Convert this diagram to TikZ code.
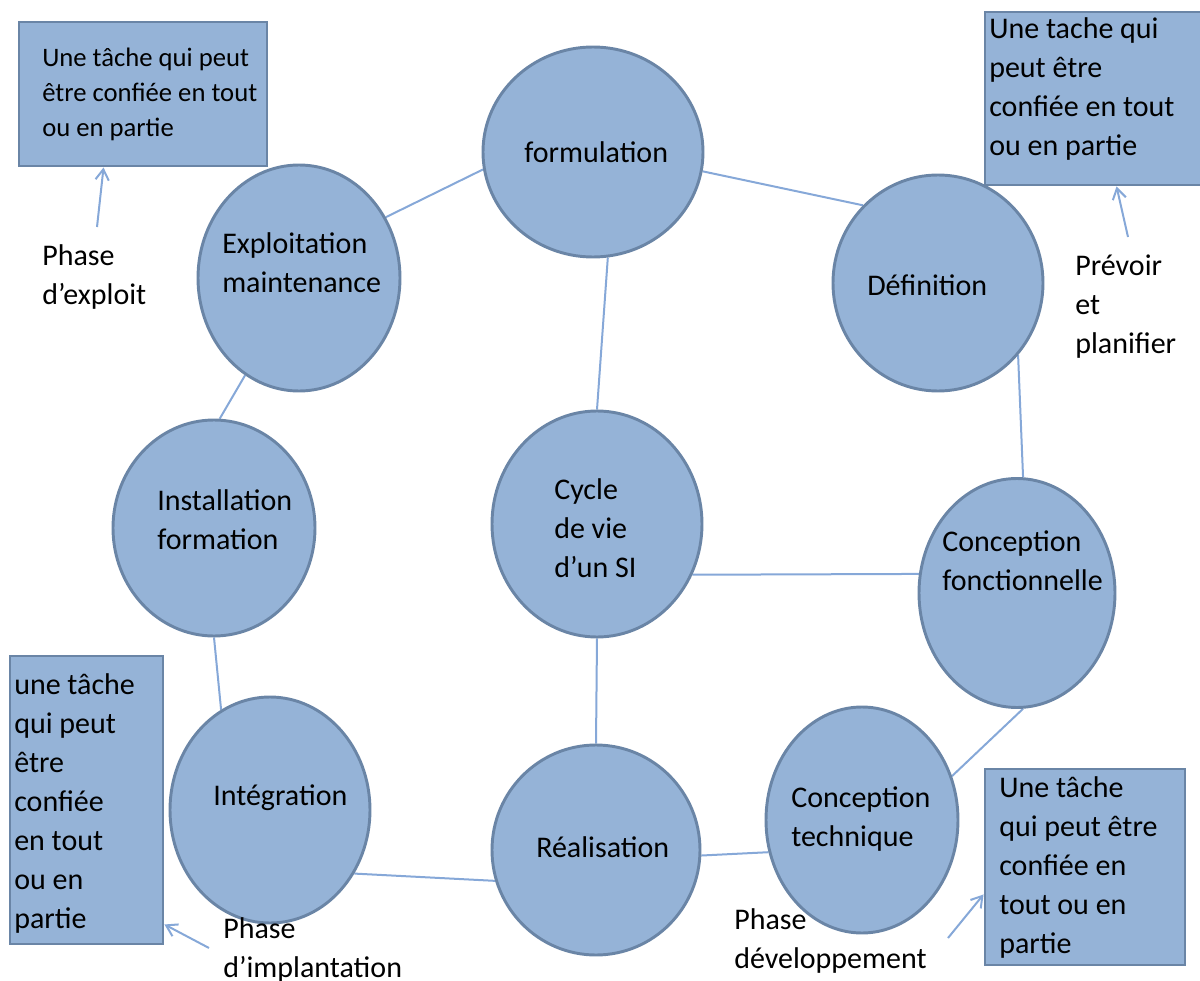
\documentclass[tikz,border=0pt]{standalone}
\usepackage{fontspec}
\setmainfont{Carlito}
\usetikzlibrary{shapes.geometric,arrows.meta,backgrounds}

% one drawing unit = one pixel of the 1200 x 981 canvas
\newlength{\pxu}\setlength{\pxu}{0.75pt}
\newcommand{\txtlines}[1]{\begin{tabular}[t]{@{}l@{}}#1\end{tabular}}

\definecolor{phasefill}{HTML}{95B3D7}
\definecolor{phaseedge}{HTML}{6A85A6}
\definecolor{linkblue}{HTML}{86A8D8}

\tikzset{
  phase/.style={ellipse, fill=phasefill, draw=phaseedge, line width=2.2pt, inner sep=0pt},
  note/.style={rectangle, fill=phasefill, draw=phaseedge, line width=2.2pt, inner sep=0pt},
  txt/.style={anchor=base west, inner sep=0pt, font=\fontsize{22.5}{29.25}\selectfont},
  smalltxt/.style={txt, font=\fontsize{20}{26}\selectfont},
  link/.style={draw=linkblue, line width=1.5pt},
  pointer/.style={link, -{Straight Barb[length=8pt,width=10pt]}}
}

\begin{document}
\begin{tikzpicture}[x=0.75pt, y=-0.75pt]
  \clip (0,0) rectangle (1200,981);
  \useasboundingbox (0,0) rectangle (1200,981);

  % phases of the life cycle
  \node[phase, minimum width=220\pxu, minimum height=210\pxu] (F)  at (593,152) {};
  \node[phase, minimum width=202\pxu, minimum height=226\pxu] (E)  at (299,278) {};
  \node[phase, minimum width=210\pxu, minimum height=216\pxu] (D)  at (938,283) {};
  \node[phase, minimum width=202\pxu, minimum height=216\pxu] (I)  at (214,528) {};
  \node[phase, minimum width=210\pxu, minimum height=226\pxu] (C)  at (597,524) {};
  \node[phase, minimum width=196\pxu, minimum height=229\pxu] (CF) at (1017,593) {};
  \node[phase, minimum width=200\pxu, minimum height=226\pxu] (G)  at (270,810) {};
  \node[phase, minimum width=208\pxu, minimum height=210\pxu] (R)  at (596,850) {};
  \node[phase, minimum width=192\pxu, minimum height=226\pxu] (CT) at (862,820) {};

  % links between phases, kept under the outlines
  \begin{pgfonlayer}{background}
    \draw[link] (E.35)   -- (F.189);
    \draw[link] (F.350)  -- (D.134);
    \draw[link] (F.278)  -- (C.90);
    \draw[link] (D.318)  -- (CF.87);
    \draw[link] (C.332)  -- (CF.169.5);
    \draw[link] (C.270)  -- (R.90);
    \draw[link] (CF.273) -- (CT.26);
    \draw[link] (R.357)  -- (CT.199);
    \draw[link] (G.323)  -- (R.197);
    \draw[link] (I.270)  -- (G.116.6);
    \draw[link] (I.87)   -- (E.241);
  \end{pgfonlayer}

  % phase names
  \node[txt] (Ft)  at (524,162) {formulation};
  \node[txt] (Et)  at (222,253) {\txtlines{Exploitation\\maintenance}};
  \node[txt] (Dt)  at (867,295) {Définition};
  \node[txt] (It)  at (157,510) {\txtlines{Installation\\formation}};
  \node[txt] (Ct)  at (554,499) {\txtlines{Cycle\\de vie\\d’un SI}};
  \node[txt] (CFt) at (942,551) {\txtlines{Conception\\fonctionnelle}};
  \node[txt] (Gt)  at (213,805) {Intégration};
  \node[txt] (Rt)  at (536,857) {Réalisation};
  \node[txt] (CTt) at (791,807) {\txtlines{Conception\\technique}};

  % notes
  \node[note, minimum width=248\pxu, minimum height=144\pxu] (boxTL) at (143,94) {};
  \node[note, minimum width=220\pxu, minimum height=173\pxu] (boxTR) at (1095,98.5) {};
  \node[note, minimum width=153\pxu, minimum height=288\pxu] (boxBL) at (86.5,800) {};
  \node[note, minimum width=200\pxu, minimum height=196\pxu] (boxBR) at (1085,867) {};

  \node[smalltxt] (boxTLt) at (42,67) {\txtlines{Une tâche qui peut\\être confiée en tout\\ou en partie}};
  \node[txt] (boxTRt) at (989,39) {\txtlines{Une tache qui\\peut être\\confiée en tout\\ou en partie}};
  \node[txt] (boxBLt) at (14,694) {\txtlines{une tâche\\qui peut\\être\\confiée\\en tout\\ou en\\partie}};
  \node[txt] (boxBRt) at (999,797) {\txtlines{Une tâche\\qui peut être\\confiée en\\tout ou en\\partie}};

  % phase groups
  \node[txt] (labA) at (42,265)   {\txtlines{Phase\\d’exploit}};
  \node[txt] (labB) at (1075,275) {\txtlines{Prévoir\\et\\planifier}};
  \node[txt] (labC) at (223,938)  {\txtlines{Phase\\d’implantation}};
  \node[txt] (labD) at (734,929)  {\txtlines{Phase\\développement}};

  \coordinate (tailA) at (97,227);
  \coordinate (tailB) at (1128,237);
  \coordinate (tailC) at (209,948);
  \coordinate (tailD) at (948,938);

  \draw[pointer] (tailA) -- ([xshift=86\pxu]boxTL.south west);
  \draw[pointer] (tailB) -- ([xshift=133\pxu]boxTR.south west);
  \draw[pointer] (tailC) -- ([yshift=21\pxu]boxBL.south east);
  \draw[pointer] (tailD) -- ([yshift=72\pxu]boxBR.south west);
\end{tikzpicture}
\end{document}
